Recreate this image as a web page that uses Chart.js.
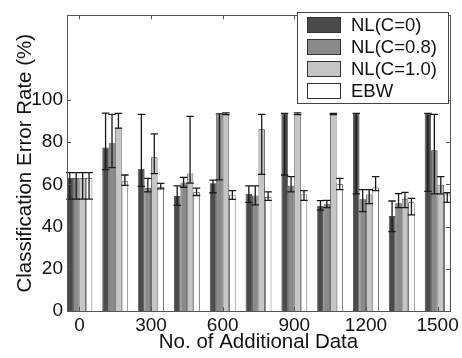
<!DOCTYPE html>
<html>
<head>
<meta charset="utf-8">
<script src="https://cdn.jsdelivr.net/npm/chart.js@4.4.1/dist/chart.umd.min.js"></script>
<style>
    html, body { margin: 0; padding: 0; background: #fff; }
    #wrap { width: 462px; height: 358px; }
</style>
</head>
<body>
<div id="wrap"><canvas id="errChart" width="462" height="358"></canvas></div>
<script>
// data
const additionalData = [0, 150, 300, 450, 600, 750, 900, 1050, 1200, 1350, 1500];
const xTickValues = [0, 300, 600, 900, 1200, 1500];
const yTickValues = [0, 20, 40, 60, 80, 100];

const nlC0      = [63, 77.4, 67.3, 54.5, 60.5, 55.5, 93.4, 49.8, 93.4, 45.0, 93.4];
const nlC0Low   = [53, 67.0, 59.0, 50.0, 56.0, 51.4, 64.4, 47.8, 55.5, 37.6, 56.7];
const nlC0High  = [65.5, 93.7, 93.1, 59.3, 62.0, 59.3, 93.6, 52.3, 93.6, 52.1, 93.6];

const nlC08     = [63, 79.4, 58.3, 60.9, 93.1, 54.7, 59.3, 50.6, 52.9, 51.0, 76.1];
const nlC08Low  = [53, 67.9, 56.4, 58.6, 62.1, 50.3, 56.4, 49.0, 47.1, 49.0, 55.5];
const nlC08High = [65.5, 93.1, 62.8, 63.3, 93.4, 59.3, 63.6, 52.4, 57.5, 55.6, 93.1];

const nlC10     = [63, 86.6, 72.8, 65.1, 93.4, 86.1, 93.4, 93.1, 55.2, 52.9, 59.8];
const nlC10Low  = [53, 86.6, 65.1, 60.6, 93.0, 64.7, 93.0, 93.0, 50.9, 49.0, 55.5];
const nlC10High = [65.5, 93.6, 83.9, 92.2, 93.8, 93.1, 93.8, 93.6, 57.5, 56.2, 63.6];

const ebw       = [63, 61.5, 58.7, 56.4, 55.1, 54.0, 55.2, 60.0, 58.5, 51.5, 55.2];
const ebwLow    = [53, 59.5, 57.8, 54.7, 52.9, 52.4, 52.4, 57.5, 57.0, 45.5, 51.4];
const ebwHigh   = [65.5, 64.4, 60.4, 58.2, 57.0, 56.4, 57.0, 62.8, 63.6, 53.3, 56.0];

const FONT = "'Liberation Sans', Arial, Helvetica, sans-serif";

// error bars on top of each bar
const errorBars = {
    id: 'errorBars',
    afterDatasetsDraw(chart) {
        const ctx = chart.ctx;
        const yScale = chart.scales.y;
        ctx.save();
        ctx.strokeStyle = '#1a1a1a';
        ctx.lineWidth = 1.3;
        chart.data.datasets.forEach((ds, i) => {
            chart.getDatasetMeta(i).data.forEach((bar, j) => {
                const yTop = yScale.getPixelForValue(ds.errHigh[j]);
                const yBot = yScale.getPixelForValue(ds.errLow[j]);
                const half = bar.width / 2 + 0.5;
                ctx.beginPath();
                ctx.moveTo(bar.x, yTop); ctx.lineTo(bar.x, yBot);
                ctx.moveTo(bar.x - half, yTop); ctx.lineTo(bar.x + half, yTop);
                ctx.moveTo(bar.x - half, yBot); ctx.lineTo(bar.x + half, yBot);
                ctx.stroke();
            });
        });
        ctx.restore();
    }
};

// matlab style box with inward ticks on all four sides
const boxAxes = {
    id: 'boxAxes',
    afterDraw(chart) {
        const ctx = chart.ctx;
        const a = chart.chartArea;
        const xs = chart.scales.x, ys = chart.scales.y;
        ctx.save();
        ctx.strokeStyle = '#555';
        ctx.lineWidth = 1;
        ctx.strokeRect(Math.round(a.left) + 0.5, Math.round(a.top) + 0.5,
            Math.round(a.right - a.left), Math.round(a.bottom - a.top));
        ctx.beginPath();
        xTickValues.forEach(v => {
            const px = Math.round(xs.getPixelForValue(v)) + 0.5;
            ctx.moveTo(px, a.bottom); ctx.lineTo(px, a.bottom - 4);
            ctx.moveTo(px, a.top); ctx.lineTo(px, a.top + 4);
        });
        yTickValues.forEach(v => {
            const py = Math.round(ys.getPixelForValue(v)) + 0.5;
            ctx.moveTo(a.left, py); ctx.lineTo(a.left + 4, py);
            ctx.moveTo(a.right, py); ctx.lineTo(a.right - 4, py);
        });
        ctx.stroke();
        ctx.restore();
    }
};

// legend box drawn inside the plot, top right
const insideLegend = {
    id: 'insideLegend',
    afterDraw(chart) {
        const ctx = chart.ctx;
        const bx = 297, by = 12, bw = 151, bh = 91;
        ctx.save();
        ctx.fillStyle = '#fff';
        ctx.fillRect(bx, by, bw, bh);
        ctx.strokeStyle = '#444';
        ctx.lineWidth = 1;
        ctx.strokeRect(bx + 0.5, by + 0.5, bw, bh);
        ctx.font = '18.5px ' + FONT;
        ctx.textBaseline = 'middle';
        chart.data.datasets.forEach((ds, i) => {
            const cy = 25 + i * 22;
            ctx.fillStyle = ds.backgroundColor;
            ctx.fillRect(307, cy - 8, 34, 16);
            ctx.strokeStyle = '#333';
            ctx.strokeRect(307.5, cy - 7.5, 33, 15);
            ctx.fillStyle = '#111';
            ctx.fillText(ds.label, 351, cy + 1);
        });
        ctx.restore();
    }
};

function makeSet(label, values, low, high, color) {
    return {
        label: label,
        data: values,
        errLow: low,
        errHigh: high,
        backgroundColor: color,
        borderColor: '#333',
        borderWidth: 0.8,
        categoryPercentage: 0.72,
        barPercentage: 1.0
    };
}

new Chart(document.getElementById('errChart'), {
    type: 'bar',
    data: {
        labels: additionalData,
        datasets: [
            makeSet('NL(C=0)', nlC0, nlC0Low, nlC0High, '#4b4b4b'),
            makeSet('NL(C=0.8)', nlC08, nlC08Low, nlC08High, '#8a8a8a'),
            makeSet('NL(C=1.0)', nlC10, nlC10Low, nlC10High, '#c6c6c6'),
            makeSet('EBW', ebw, ebwLow, ebwHigh, '#ffffff')
        ]
    },
    options: {
        responsive: false,
        animation: false,
        layout: { padding: { top: 7, right: 9, left: 0, bottom: 0 } },
        plugins: { legend: { display: false }, tooltip: { enabled: false } },
        scales: {
            x: {
                type: 'linear',
                offset: false,
                min: -52,
                max: 1552,
                grid: { display: false, drawTicks: false, offset: false },
                border: { display: false },
                afterBuildTicks: s => { s.ticks = xTickValues.map(v => ({ value: v })); },
                afterFit: s => { s.height = 47; },
                ticks: {
                    color: '#111',
                    font: { family: FONT, size: 19 },
                    padding: 3,
                    maxRotation: 0,
                    callback: v => String(v)
                },
                title: {
                    display: true,
                    text: 'No. of Additional Data',
                    color: '#111',
                    font: { family: FONT, size: 20.5 },
                    padding: { top: 0, bottom: 3.5 }
                }
            },
            y: {
                min: 0,
                max: 140,
                grid: { display: false, drawTicks: false },
                border: { display: false },
                afterBuildTicks: s => { s.ticks = yTickValues.map(v => ({ value: v })); },
                afterFit: s => { s.width = 67; },
                ticks: { color: '#111', font: { family: FONT, size: 19 }, padding: 4 },
                title: {
                    display: true,
                    text: 'Classification Error Rate (%)',
                    color: '#111',
                    font: { family: FONT, size: 20.5 },
                    padding: { top: 13, bottom: 0 }
                }
            }
        }
    },
    plugins: [errorBars, boxAxes, insideLegend]
});
</script>
</body>
</html>
